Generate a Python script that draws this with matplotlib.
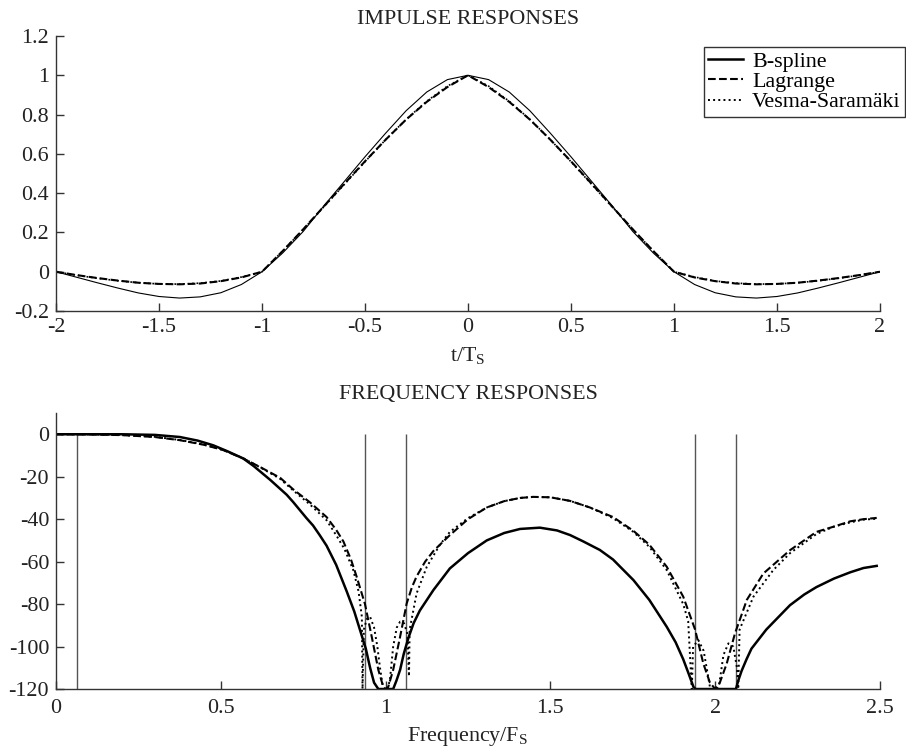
import numpy as np
import matplotlib
matplotlib.use("Agg")
import matplotlib.pyplot as plt

plt.rcParams['font.family'] = ['Liberation Serif', 'DejaVu Serif']
plt.rcParams['mathtext.fontset'] = 'custom'
plt.rcParams['mathtext.rm'] = 'Liberation Serif'
plt.rcParams['font.size'] = 15.8
plt.rcParams['axes.unicode_minus'] = False

# ---- impulse responses (t = -2 .. 2, step 0.1)
t = np.linspace(-2, 2, 41)
h_bspline = [0.0, -0.028, -0.056, -0.083, -0.108, -0.126, -0.134, -0.128, -0.107, -0.065,
             0.0, 0.095, 0.205, 0.335, 0.46, 0.585, 0.705, 0.82, 0.915, 0.978,
             1.0,
             0.978, 0.915, 0.82, 0.705, 0.585, 0.46, 0.335, 0.205, 0.095, 0.0,
             -0.065, -0.107, -0.128, -0.134, -0.126, -0.108, -0.083, -0.056, -0.028, 0.0]
h_lagrange = [0.0, -0.017, -0.032, -0.045, -0.056, -0.062, -0.064, -0.06, -0.048, -0.029,
              0.0, 0.105, 0.216, 0.332, 0.448, 0.562, 0.672, 0.775, 0.865, 0.94,
              1.0,
              0.94, 0.865, 0.775, 0.672, 0.562, 0.448, 0.332, 0.216, 0.105, 0.0,
              -0.029, -0.048, -0.06, -0.064, -0.062, -0.056, -0.045, -0.032, -0.017, 0.0]
h_vesma = [0.0, -0.018, -0.033, -0.046, -0.056, -0.062, -0.063, -0.058, -0.047, -0.027,
           0.0, 0.105, 0.215, 0.33, 0.445, 0.56, 0.672, 0.776, 0.868, 0.945,
           1.0,
           0.945, 0.868, 0.776, 0.672, 0.56, 0.445, 0.33, 0.215, 0.105, 0.0,
           -0.027, -0.047, -0.058, -0.063, -0.062, -0.056, -0.046, -0.033, -0.018, 0.0]

# ---- frequency responses (dB)
f_bspline = [0.0, 0.1, 0.2, 0.3, 0.376, 0.43, 0.477, 0.52, 0.568, 0.6, 0.65, 0.7, 0.72, 0.76,
             0.78, 0.8, 0.821, 0.85, 0.882, 0.905, 0.922, 0.94, 0.953, 0.965, 0.978, 1.023,
             1.033, 1.044, 1.055, 1.069, 1.085, 1.104, 1.145, 1.195, 1.25, 1.307, 1.36, 1.408,
             1.468, 1.52, 1.56, 1.6, 1.65, 1.69, 1.752, 1.8, 1.853, 1.88, 1.903, 1.92, 1.934,
             1.94, 2.063, 2.07, 2.08, 2.095, 2.11, 2.13, 2.155, 2.18, 2.227, 2.27, 2.307, 2.36,
             2.41, 2.45, 2.49]
db_bspline = [0, 0, 0, -0.3, -1.3, -3, -5.2, -8, -11.4, -15, -21.5, -28.5, -32, -39.5,
              -43, -47.5, -52.5, -61.5, -74, -83.5, -92, -101, -110, -117, -120, -120,
              -116, -111, -103.5, -96, -89, -83, -73.4, -63.2, -56, -50, -46.5, -44.6,
              -44, -45.3, -47.5, -50.5, -54.5, -59, -68.7, -78, -90.7, -98, -106, -113, -119,
              -120, -120, -116, -111.5, -106, -101, -97, -92, -88, -80.5, -75.5, -72, -68,
              -65, -63, -62]

f_lagrange = [0.0, 0.1, 0.2, 0.3, 0.376, 0.45, 0.508, 0.568, 0.62, 0.68, 0.72, 0.77, 0.821,
              0.85, 0.872, 0.895, 0.912, 0.9375, 0.958, 0.978, 0.993, 1.0, 1.008, 1.023, 1.044,
              1.064, 1.08, 1.094, 1.12, 1.145, 1.195, 1.25, 1.307, 1.36, 1.408, 1.448, 1.5,
              1.56, 1.62, 1.69, 1.752, 1.8, 1.853, 1.903, 1.939, 1.964, 1.984, 2.0, 2.014,
              2.035, 2.06, 2.096, 2.146, 2.227, 2.307, 2.36, 2.41, 2.45, 2.49]
db_lagrange = [0, -0.1, -0.4, -1.3, -2.8, -5, -7.5, -11.4, -15.5, -20.5, -26, -32, -39,
               -45, -50.5, -59, -67, -80, -95.4, -111, -119, -120, -119, -111, -95.4,
               -79.7, -72, -67, -60, -55, -47.5, -40, -34.5, -31.5, -30, -29.5, -29.7,
               -31.4, -34.5, -39, -45.5, -52, -62.4, -76.5, -92, -108, -117, -120, -117,
               -108, -93.8, -78, -65.6, -54.6, -46, -43.5, -41, -40, -39.4]

f_vesma = [0.0, 0.1, 0.2, 0.3, 0.376, 0.45, 0.508, 0.568, 0.62, 0.68, 0.72, 0.77, 0.821,
           0.852, 0.875, 0.902, 0.918, 0.928, 0.930, 0.934, 0.943, 0.953, 0.965, 0.975, 0.983,
           0.993, 1.005, 1.013, 1.023, 1.034, 1.044, 1.056, 1.066, 1.071, 1.073, 1.094, 1.125,
           1.165, 1.195, 1.25, 1.307, 1.36, 1.408, 1.448, 1.5, 1.56, 1.62, 1.69, 1.752, 1.8,
           1.853, 1.903, 1.918, 1.929, 1.933, 1.949, 1.965, 1.984, 1.99, 2.005, 2.012, 2.025,
           2.04, 2.055, 2.066, 2.07, 2.074, 2.116, 2.176, 2.227, 2.307, 2.36, 2.41, 2.45, 2.49]
db_vesma = [0, -0.05, -0.35, -1.2, -2.7, -4.9, -7.4, -11.3, -15.6, -21, -26.5, -33, -40.5,
            -48, -54, -64, -74, -86, -120, -92, -87, -86, -91, -100, -110,
            -120, -120, -116, -100, -91, -88.3, -89, -94, -114, -92, -75, -62.4,
            -52, -46, -39.5, -34.5, -31.5, -30, -29.5, -29.7, -31.4, -34.5, -39.5, -46, -53,
            -64, -80, -88, -120, -100, -97, -102, -119, -120, -120, -118, -104,
            -98.5, -100, -110, -120, -92, -76.5, -64, -56, -47, -43.5, -41.5, -40.2, -39.8]

edges = [0.0625, 0.9375, 1.0625, 1.9375, 2.0625]

t_ticks = [-2, -1.5, -1, -0.5, 0, 0.5, 1, 1.5, 2]
t_ticklabels = ['-2', '-1.5', '-1', '-0.5', '0', '0.5', '1', '1.5', '2']
h_ticks = [-0.2, 0, 0.2, 0.4, 0.6, 0.8, 1, 1.2]
h_ticklabels = ['-0.2', '0', '0.2', '0.4', '0.6', '0.8', '1', '1.2']
f_ticks = [0, 0.5, 1, 1.5, 2, 2.5]
f_ticklabels = ['0', '0.5', '1', '1.5', '2', '2.5']
db_ticks = [-120, -100, -80, -60, -40, -20, 0]
db_ticklabels = ['-120', '-100', '-80', '-60', '-40', '-20', '0']

fig = plt.figure(figsize=(9.06, 7.5), dpi=100)
ax1 = fig.add_axes([0.0618, 0.5853, 0.9095, 0.3667])
ax2 = fig.add_axes([0.0618, 0.0813, 0.9095, 0.368])

ax1.plot(t, h_bspline, color='black', lw=0.8)
ax1.plot(t, h_lagrange, color='black', lw=1.5, ls='--')
ax1.plot(t, h_vesma, color='black', lw=1.2, ls=':')

ax2.vlines(edges, -120, 0, color='#555555', lw=1.0)
l1, = ax2.plot(f_bspline, db_bspline, color='black', lw=1.8, label='B-spline')
l2, = ax2.plot(f_lagrange, db_lagrange, color='black', lw=1.5, ls='--', label='Lagrange')
l3, = ax2.plot(f_vesma, db_vesma, color='black', lw=1.4, ls=':', label='Vesma-Saramäki')

for ax in (ax1, ax2):
    ax.spines['top'].set_visible(False)
    ax.spines['right'].set_visible(False)
    for s in ('left', 'bottom'):
        ax.spines[s].set_color('#333333')
        ax.spines[s].set_linewidth(1.0)
    ax.tick_params(direction='in', length=6, width=1.0, color='#333333',
                   labelcolor='#222222', pad=5)
ax2.tick_params(axis='x', pad=7)

ax1.set_xlim(-2, 2)
ax1.set_ylim(-0.2, 1.2)
ax1.set_xticks(t_ticks)
ax1.set_xticklabels(t_ticklabels)
ax1.set_yticks(h_ticks)
ax1.set_yticklabels(h_ticklabels)
ax1.set_title('IMPULSE RESPONSES', pad=9, fontsize=15.8, color='#222222')
ax1.set_xlabel('t/T$_\\mathregular{S}$', labelpad=6, color='#222222')

ax2.set_xlim(0, 2.5)
ax2.set_ylim(-120, 10)
ax2.set_xticks(f_ticks)
ax2.set_xticklabels(f_ticklabels)
ax2.set_yticks(db_ticks)
ax2.set_yticklabels(db_ticklabels)
ax2.set_title('FREQUENCY RESPONSES', pad=10, fontsize=15.8, color='#222222')
ax2.set_xlabel('Frequency/F$_\\mathregular{S}$', labelpad=5, color='#222222')

leg = ax1.legend(handles=[l1, l2, l3], loc='upper right',
                 bbox_to_anchor=(905 / 906, 1 - 47 / 750), bbox_transform=fig.transFigure,
                 fancybox=False, edgecolor='#333333', framealpha=1, borderaxespad=0,
                 borderpad=0.2, labelspacing=0.0, handlelength=1.6, handletextpad=0.4,
                 fontsize=15.8)
leg.get_frame().set_linewidth(1.0)

fig.savefig('out.png', dpi=100)
